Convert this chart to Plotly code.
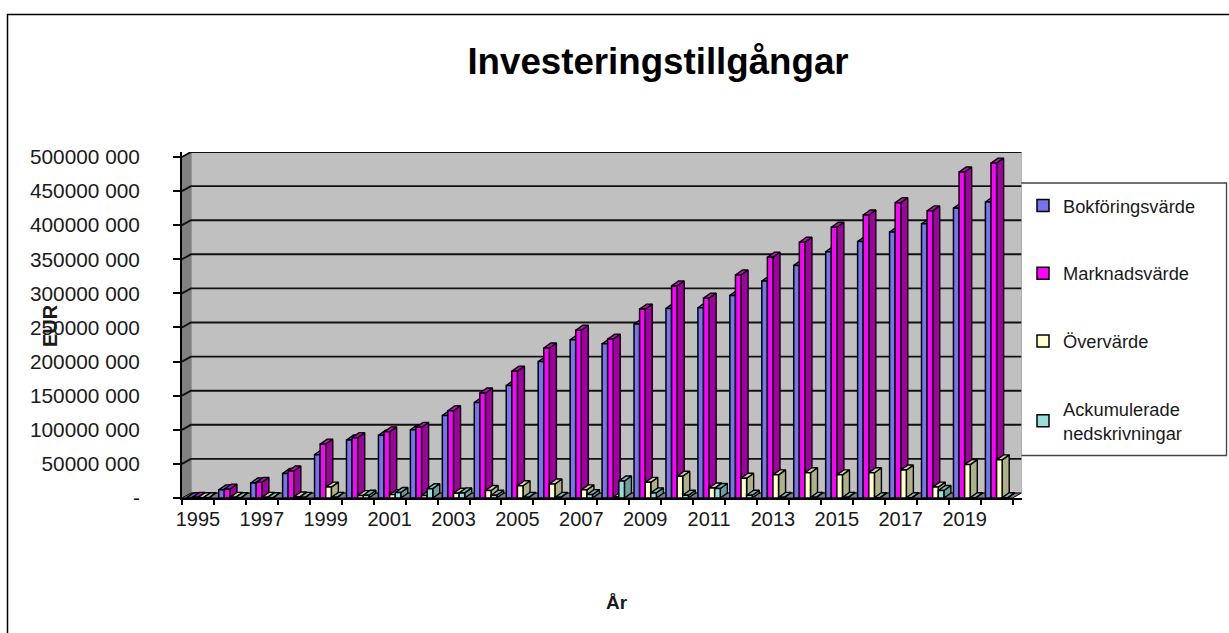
import plotly.graph_objects as go

years = list(range(1995, 2021))
bokforing = [0.5, 12, 22, 36, 63.5, 85, 92, 100, 121, 140, 165, 200, 232, 226, 255, 278, 279, 297, 318, 341, 361, 376, 390, 402, 425, 434]
marknad = [1, 13, 23, 39.6, 79, 88.5, 97, 103.6, 128, 154, 186, 220, 246, 233, 277, 311, 293, 327, 353, 375, 397, 415, 433, 421, 478, 491]
overvarde = [0.5, 1, 1, 1.5, 16, 3.5, 5, 3.6, 7, 11, 18, 20.5, 12, 1.5, 23, 32, 14.7, 29, 34, 37, 34, 37, 41, 16, 49, 56]
nedskrivning = [0.5, 0.5, 0.5, 1, 1, 4, 8, 13.7, 7.5, 4, 1, 1, 5, 25, 7.5, 4, 14, 4, 1, 1, 1, 0.5, 0.5, 11, 0.5, 0.5]
series_names = ["Bokföringsvärde", "Marknadsvärde", "Övervärde", "Ackumulerade<br>nedskrivningar"]
series_values = [bokforing, marknad, overvarde, nedskrivning]
y_ticks = list(range(0, 501, 50))
y_labels = ["-", "50000 000", "100000 000", "150000 000", "200000 000", "250000 000",
            "300000 000", "350000 000", "400000 000", "450000 000", "500000 000"]

W, H = 1229, 633
FONT = "Liberation Sans"
TEXT = "#1a1a1a"
front = ["#7474EC", "#FF00FF", "#FFFFCC", "#99DDDD"]
side = ["#4F4FA8", "#A000A0", "#B0B088", "#6BA0A0"]
top = ["#6060C8", "#D000D0", "#D8D8A0", "#80BABA"]

X0, X1 = 1994.5, 2020.78
Y1 = 507.3
WALL_DX, WALL_DY = 0.28, 7.3   # wall depth in axis units
BAR_DX, BAR_DY = 0.22, 7.3     # bar depth in axis units
BAR_W = 0.175
GROUP = BAR_W * 4


def poly(points, xs, ys):
    for p in points:
        xs.append(p[0]); ys.append(p[1])
    xs.append(points[0][0]); ys.append(points[0][1])
    xs.append(None); ys.append(None)


def fill_trace(xs, ys, color, line="#000000", width=1.4):
    return go.Scatter(x=xs, y=ys, mode="lines", fill="toself", fillcolor=color,
                      line=dict(color=line, width=width), showlegend=False, hoverinfo="skip",
                      xaxis="x", yaxis="y")


fig = go.Figure()

# walls and floor
fig.add_trace(fill_trace([X0 + WALL_DX, X1, X1, X0 + WALL_DX, X0 + WALL_DX],
                         [WALL_DY, WALL_DY, 500 + WALL_DY, 500 + WALL_DY, WALL_DY],
                         "#C0C0C0", line="#808080", width=1))
fig.add_trace(fill_trace([X0, X0 + WALL_DX, X0 + WALL_DX, X0, X0],
                         [0, WALL_DY, 500 + WALL_DY, 500, 0], "#808080", line="#808080", width=1))
fig.add_trace(fill_trace([X0, 2020.5, X1, X0 + WALL_DX, X0],
                         [0, 0, WALL_DY, WALL_DY, 0], "#808080", line="#000000", width=1))

# gridlines on the walls
gx, gy = [], []
for v in y_ticks[1:]:
    gx += [X0, X0 + WALL_DX, X1, None]
    gy += [v, v + WALL_DY, v + WALL_DY, None]
fig.add_trace(go.Scatter(x=gx, y=gy, mode="lines", line=dict(color="#111111", width=1.9),
                         showlegend=False, hoverinfo="skip", xaxis="x", yaxis="y"))

# depth faces of the bars
for j, vals in enumerate(series_values):
    sx, sy, tx, ty = [], [], [], []
    for yr, v in zip(years, vals):
        r = yr - GROUP / 2 + (j + 1) * BAR_W
        l = r - BAR_W
        poly([(r, 0), (r + BAR_DX, BAR_DY), (r + BAR_DX, v + BAR_DY), (r, v)], sx, sy)
        poly([(l, v), (r, v), (r + BAR_DX, v + BAR_DY), (l + BAR_DX, v + BAR_DY)], tx, ty)
    fig.add_trace(fill_trace(sx, sy, side[j]))
    fig.add_trace(fill_trace(tx, ty, top[j]))

# front faces
for j, vals in enumerate(series_values):
    fig.add_trace(go.Bar(x=years, y=vals, name=series_names[j], legendgroup=str(j),
                         marker=dict(color=front[j], line=dict(color="#000000", width=1.5)),
                         xaxis="x2", yaxis="y2"))

px_x = lambda p: p / W
px_y = lambda p: 1 - p / H
xdom = [px_x(182), px_x(1021.5)]
ydom = [px_y(498), px_y(152)]

fig.update_layout(
    width=W, height=H, autosize=False,
    margin=dict(l=0, r=0, t=0, b=0, pad=0, autoexpand=False),
    paper_bgcolor="#FFFFFF", plot_bgcolor="rgba(0,0,0,0)",
    barmode="group", bargap=0.3, bargroupgap=0,
    font=dict(family=FONT, size=18, color=TEXT),
    xaxis=dict(domain=xdom, range=[X0, X1], tickmode="linear", tick0=1995, dtick=2,
               ticks="outside", ticklen=3, tickcolor="rgba(0,0,0,0)",
               tickfont=dict(family=FONT, size=20, color=TEXT),
               showgrid=False, zeroline=False, showline=False, anchor="y"),
    yaxis=dict(domain=ydom, range=[0, Y1], tickvals=y_ticks, ticktext=y_labels,
               ticks="outside", ticklen=7, tickcolor="#000000", tickwidth=1.5,
               tickfont=dict(family=FONT, size=20.8, color=TEXT), ticklabelstandoff=29,
               showgrid=False, zeroline=False, showline=True, linecolor="#000000", linewidth=2,
               anchor="x"),
    xaxis2=dict(domain=xdom, range=[X0, X1], overlaying="x", anchor="y2", side="bottom",
                tickmode="linear", tick0=1994.5, dtick=1, ticks="outside", ticklen=5,
                tickcolor="#000000", tickwidth=1.5, showticklabels=False, showgrid=False,
                zeroline=False, showline=True, linecolor="#000000", linewidth=1.5),
    yaxis2=dict(domain=ydom, range=[0, Y1], overlaying="y", anchor="x2", visible=False),
    legend=dict(x=px_x(1023), y=px_y(187), xanchor="left", yanchor="top",
                tracegroupgap=41, bgcolor="rgba(0,0,0,0)", borderwidth=0,
                font=dict(family=FONT, size=18.3, color=TEXT), traceorder="grouped",
                itemclick=False, itemdoubleclick=False),
    title=dict(text="<b>Investeringstillgångar</b>", x=658 / W, xanchor="center",
               y=px_y(61), yanchor="middle", font=dict(family=FONT, size=36.7, color="#000000")),
    annotations=[
        dict(text="<b>År</b>", x=px_x(617), y=px_y(602), xref="paper", yref="paper",
             xanchor="center", yanchor="middle", showarrow=False,
             font=dict(family=FONT, size=19, color=TEXT)),
        dict(text="<b>EUR</b>", x=px_x(50), y=px_y(326), xref="paper", yref="paper",
             xanchor="center", yanchor="middle", showarrow=False, textangle=-90,
             font=dict(family=FONT, size=20, color=TEXT)),
    ],
    shapes=[
        dict(type="rect", xref="paper", yref="paper", layer="below",
             x0=px_x(7.5), x1=1.02, y0=px_y(14.5), y1=-0.02,
             line=dict(color="#000000", width=1.5), fillcolor="#FFFFFF"),
        dict(type="rect", xref="paper", yref="paper", layer="below",
             x0=px_x(1020.5), x1=px_x(1226.5), y0=px_y(183), y1=px_y(455.5),
             line=dict(color="#444444", width=1.3), fillcolor="#FFFFFF"),
    ],
)

fig.write_html("out.html", config={"displayModeBar": False},
               post_script="document.body.style.margin='0';document.body.style.overflow='hidden';")
